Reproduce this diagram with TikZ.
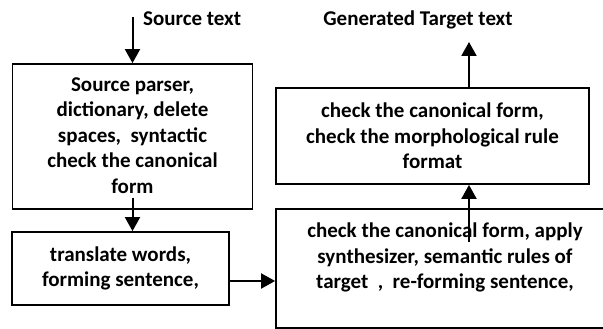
\documentclass[tikz,border=0pt]{standalone}
\usepackage{fontspec}
\setmainfont{Carlito}
\usetikzlibrary{arrows.meta, positioning}
\tikzset{
    >={Triangle[length=14pt,width=15pt]}, % solid arrow heads
    stage/.style={draw, line width=1.8pt, inner sep=0pt, align=center,
        font=\bfseries\fontsize{21}{25.5}\selectfont}, % the processing boxes
    flow/.style={->, line width=2pt}, % arrows between stages
    caption/.style={inner sep=0pt, font=\bfseries\fontsize{21}{25.5}\selectfont},
}

\begin{document}
\begin{tikzpicture}[x=1pt, y=-1pt]
    \useasboundingbox (0,0) rectangle (603,329);
    % left column
    \node[stage, minimum width=240pt, minimum height=145pt] (parser) at (132.5,136.5)
        {\mbox{}\\[-13.5pt] Source parser,\\ dictionary, delete\\ spaces,\ \ syntactic\\ check the canonical\\ form};
    \node[stage, minimum width=217pt, minimum height=73pt] (translate) at (120.5,268.5)
        {translate words,\\ forming sentence,};
    % right column
    \node[stage, minimum width=338pt, minimum height=119pt] (synth) at (445,268.5)
        {check the canonical form, apply\\ synthesizer, semantic rules of\\ target\ \ ,\ \ re-forming sentence,\\ \mbox{}};
    \node[stage, minimum width=313pt, minimum height=96pt] (morph) at (432.5,136)
        {check the canonical form,\\ check the morphological rule\\ format};
    % input and output
    \node[caption, anchor=west] (source) at (143,19) {Source text};
    \node[caption] (target) at (418,20) {Generated Target text};
    \coordinate (srcin) at (132.5,17);
    \coordinate (tgtout) at (469,42);
    \coordinate (parsout) at ([yshift=12pt]parser.south);
    \coordinate (transout) at ([yshift=-12.5pt]translate.east);
    \coordinate (synout) at (469,242);
    \draw[flow] (srcin) -- (parser.north);
    \draw[flow] (parsout) -- (translate.north -| parsout);
    \draw[flow] (transout) -- (transout -| synth.west);
    \draw[flow] (synout) -- (synout |- morph.south);
    \draw[flow] (tgtout |- morph.north) -- (tgtout);
\end{tikzpicture}
\end{document}
